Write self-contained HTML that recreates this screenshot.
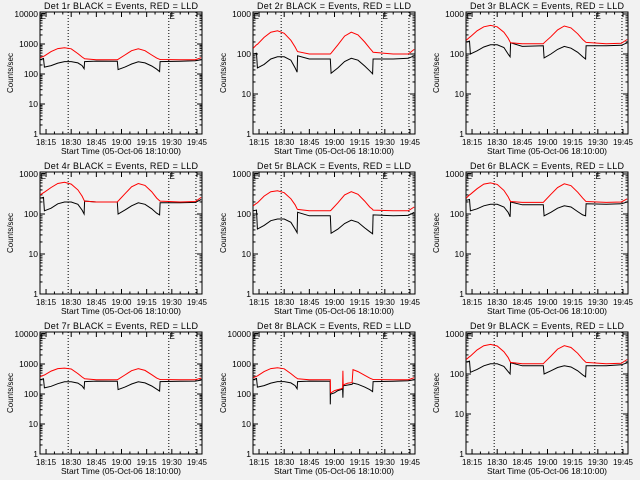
<!DOCTYPE html>
<html><head><meta charset="utf-8"><style>
html,body{margin:0;padding:0;background:#f2f2f2;}
svg{display:block;font-family:"Liberation Sans",sans-serif;}
</style></head><body>
<svg id="chart" width="640" height="480" viewBox="0 0 640 480" xmlns="http://www.w3.org/2000/svg">
<rect x="0" y="0" width="640" height="480" fill="#f2f2f2"/>
</svg>
<script>
// shared sample times (minutes after 18:00)
const T = [11.5,13.5,14,18,22,26,30,34,36.5,37.7,38,45,57.5,58,62,66,70,74,78,81,82.7,83,95,104,107.5];
const T8 = [11.5,13.5,14,18,22,26,30,34,36.5,37.7,38,45,57.4,57.5,57.6,58,60,62,64,64.8,65,65.2,65.5,66,68,70.5,71,74,78,81,82.7,83,95,104,107.5];
const red1 = [350,390,400,560,700,750,690,480,370,330,320,300,300,310,430,600,690,600,430,340,310,305,300,300,350];
const blk1 = [300,330,170,190,230,260,260,235,190,150,260,270,265,140,170,215,255,235,185,145,120,260,265,275,300];
const red2 = [140,170,175,260,350,380,330,220,150,120,115,100,100,105,170,280,350,300,200,140,115,110,100,100,130];
const blk2 = [100,105,45,55,75,85,85,70,45,35,90,75,75,33,45,65,78,70,50,38,32,75,75,78,90];
const red3 = [220,260,270,380,480,520,480,350,250,200,190,180,180,190,270,400,500,450,320,230,200,195,180,185,230];
const blk3 = [200,210,100,120,150,170,170,145,100,85,190,155,160,80,100,130,155,140,110,85,75,160,160,165,190];
const red4 = [300,340,350,460,580,620,560,400,280,220,210,200,200,210,320,480,580,520,360,250,215,210,200,205,260];
const blk4 = [250,260,120,140,180,200,200,175,125,100,210,200,200,100,125,160,190,175,135,105,95,190,190,195,230];
const red5 = [160,185,190,280,360,380,340,240,170,135,130,120,120,125,190,300,360,310,210,150,130,125,120,120,150];
const blk5 = [120,125,42,52,68,75,75,62,42,34,110,90,90,33,42,58,70,62,45,36,32,95,90,92,110];
const red6 = [250,300,310,430,560,600,550,390,270,215,205,195,195,205,310,460,570,510,350,250,210,205,195,200,240];
const blk6 = [220,230,120,135,160,175,175,150,110,85,200,170,170,90,110,140,160,150,115,95,90,180,175,180,200];
const red7 = [380,420,430,580,700,730,680,480,370,330,320,300,300,310,430,600,700,610,440,340,310,305,300,300,340];
const blk7 = [300,320,160,180,220,255,255,230,185,150,260,270,265,140,170,215,255,235,185,145,125,260,265,270,290];
const red8 = [350,390,400,560,700,750,690,480,370,330,320,300,300,300,110,110,130,140,150,160,600,200,200,210,230,240,650,560,420,340,310,305,300,300,350];
const blk8 = [300,330,170,190,230,260,260,235,190,150,260,270,265,45,100,100,110,130,140,150,75,180,200,190,200,210,230,210,170,140,120,260,265,275,300];
const red9 = [230,270,280,400,510,550,500,360,260,205,195,180,180,190,280,420,510,460,330,235,200,195,180,185,230];
const blk9 = [200,210,110,130,160,180,180,155,115,100,190,160,160,100,120,145,160,150,120,95,85,160,160,170,190];
const decades = [4,3,3,3,3,3,4,4,3];
const tickLabels = ["18:15","18:30","18:45","19:00","19:15","19:30","19:45"];
const tickTimes = [15,30,45,60,75,90,105];
const markerTimes = [28.2,88.2,104.4];

const panels = [
  {t:T,r:red1,b:blk1},{t:T,r:red2,b:blk2},{t:T,r:red3,b:blk3},
  {t:T,r:red4,b:blk4},{t:T,r:red5,b:blk5},{t:T,r:red6,b:blk6},
  {t:T,r:red7,b:blk7},{t:T8,r:red8,b:blk8},{t:T,r:red9,b:blk9}
];
const svg = document.getElementById('chart');
const NS = 'http://www.w3.org/2000/svg';
function mk(tag, attrs, parent){
  const e = document.createElementNS(NS, tag);
  for (const k in attrs) e.setAttribute(k, attrs[k]);
  parent.appendChild(e);
  return e;
}
const L=40,R=202,TOP=12,BOT=134,T0=11.4,T1=108;
panels.forEach((p,i)=>{
  const ox=(i%3)*213, oy=Math.floor(i/3)*160, n=decades[i];
  const g = mk('g',{transform:`translate(${ox},${oy})`},svg);
  
  
  const xs = t => L + (t-T0)*(R-L)/(T1-T0);
  const ys = v => BOT - Math.log10(v)*(120/n);
  const title = mk('text',{x:(L+R)/2,y:9,'text-anchor':'middle','font-size':9,textLength:154,lengthAdjust:'spacing'},g);
  title.textContent = 'Det '+(i+1)+'r BLACK = Events, RED = LLD';
  
  
  markerTimes.forEach(mt=>{
    const l = mk('line',{x1:xs(mt),x2:xs(mt),y1:TOP,y2:BOT,stroke:'#000','stroke-width':1,'stroke-dasharray':'1,2'},g);
    
    
  });
  [11.8,88.6].forEach(et=>{
    const e = mk('text',{x:xs(et),y:19,'font-size':8},g);
    e.textContent='E';
    
    
  });
  const box = mk('rect',{x:L,y:TOP,width:R-L,height:BOT-TOP,fill:'none',stroke:'#000','stroke-width':1},g);
  
  
  for(let d=0; d<=n; d++){
    const y=ys(Math.pow(10,d));
    mk('line',{x1:L,x2:L+5,y1:y,y2:y,stroke:'#000'},g);
    mk('line',{x1:R-5,x2:R,y1:y,y2:y,stroke:'#000'},g);
    const tl = mk('text',{x:L-2,y:y+3,'text-anchor':'end','font-size':8.5},g);
    tl.textContent = String(Math.pow(10,d));
    
    
    if(d<n){ for(let m=2;m<=9;m++){ const ym=ys(m*Math.pow(10,d));
      mk('line',{x1:L,x2:L+2.5,y1:ym,y2:ym,stroke:'#000'},g);
      mk('line',{x1:R-2.5,x2:R,y1:ym,y2:ym,stroke:'#000'},g);} }
  }
  for(let t=15;t<=105;t+=5){
    const major = (t%15===0), x=xs(t), len=major?5:2.5;
    mk('line',{x1:x,x2:x,y1:BOT,y2:BOT-len,stroke:'#000'},g);
    mk('line',{x1:x,x2:x,y1:TOP,y2:TOP+len,stroke:'#000'},g);
  }
  tickLabels.forEach((lab,k)=>{
    const tl = mk('text',{x:xs(tickTimes[k]),y:145,'text-anchor':'middle','font-size':8},g);
    tl.textContent = lab;
    
    
  });
  const xt = mk('text',{x:(L+R)/2,y:154,'text-anchor':'middle','font-size':8.5},g);
  xt.textContent='Start Time (05-Oct-06 18:10:00)';
  
  
  const yt = mk('text',{x:0,y:0,'text-anchor':'middle','font-size':8,transform:`translate(13,${(TOP+BOT)/2}) rotate(-90)`},g);
  yt.textContent='Counts/sec';
  
  
  const pts = arr => arr.map((v,k)=>xs(p.t[k]).toFixed(1)+','+ys(v).toFixed(1)).join(' ');
  const bl = mk('polyline',{points:pts(p.b),fill:'none',stroke:'#000','stroke-width':1},g);
  
  
  const rl = mk('polyline',{points:pts(p.r),fill:'none',stroke:'#ff0000','stroke-width':1},g);
  
  
});
</script>
</body></html>
